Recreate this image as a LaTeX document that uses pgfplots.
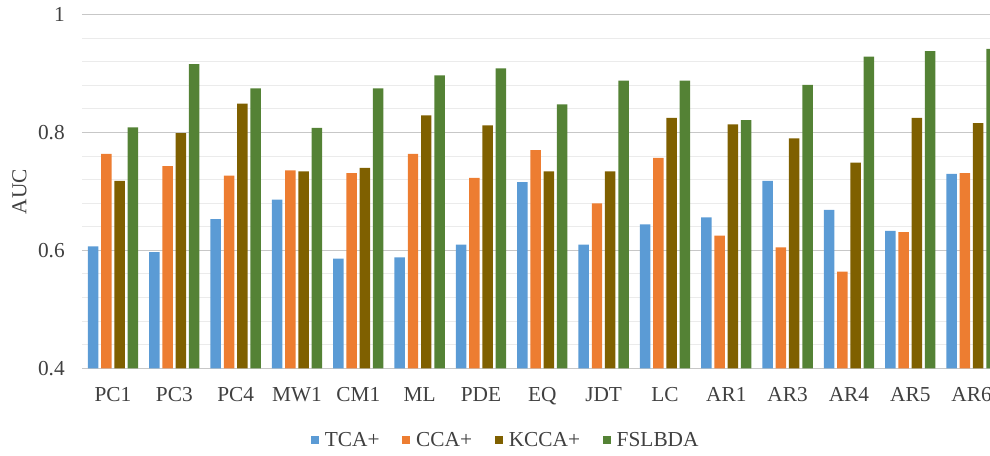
\documentclass[border=0pt]{standalone}
\usepackage{pgfplots}
\usepackage{pgfplotstable}
\pgfplotsset{compat=1.18}
\usepackage{fontspec}
\setmainfont{Liberation Serif}
\definecolor{cTCA}{HTML}{5B9BD5}
\definecolor{cCCA}{HTML}{ED7D31}
\definecolor{cKCCA}{HTML}{7F6000}
\definecolor{cFSL}{HTML}{548235}
\definecolor{txt}{HTML}{404040}
\pgfplotstableread{
x TCA CCA KCCA FSL
0 0.607 0.764 0.718 0.809
1 0.597 0.743 0.799 0.916
2 0.653 0.727 0.849 0.875
3 0.686 0.736 0.734 0.808
4 0.586 0.731 0.740 0.875
5 0.588 0.764 0.829 0.897
6 0.610 0.723 0.812 0.909
7 0.716 0.770 0.734 0.848
8 0.610 0.680 0.734 0.888
9 0.644 0.757 0.825 0.888
10 0.656 0.625 0.814 0.821
11 0.718 0.605 0.790 0.881
12 0.669 0.564 0.749 0.929
13 0.633 0.631 0.825 0.938
14 0.730 0.731 0.816 0.942
}\datatable
\begin{document}
\begin{tikzpicture}
\useasboundingbox (0,0) rectangle (742.5pt,342pt);
\begin{axis}[
  at={(61.5pt,65.78pt)}, anchor=south west,
  scale only axis, width=681pt, height=265.2pt,
  xmin=-0.505, xmax=14.30, ymin=0.4, ymax=1,
  axis line style={draw=none},
  tick style={draw=none},
  font=\fontsize{16}{18}\selectfont,
  ytick={0.4,0.6,0.8,1},
  yticklabels={0.4,0.6,0.8,1},
  minor ytick={0.44,0.48,0.52,0.56,0.64,0.68,0.72,0.76,0.84,0.88,0.92,0.96},
  ymajorgrids, yminorgrids,
  major grid style={draw=black!22, line width=0.75pt},
  minor grid style={draw=black!8, line width=0.75pt},
  xtick={0,...,14},
  xticklabels={PC1,PC3,PC4,MW1,CM1,ML,PDE,EQ,JDT,LC,AR1,AR3,AR4,AR5,AR6},
  xticklabel style={anchor=base, inner sep=0pt, yshift=-25pt, text=txt},
  yticklabel style={anchor=east, inner sep=0pt, xshift=-12.75pt, text=txt},
  ylabel={AUC},
  every axis y label/.style={at={(axis description cs:-0.0688,0.5)}, rotate=90, anchor=center, text=txt},
  legend columns=4,
  legend style={at={(0.467,-0.2028)}, anchor=center, draw=none, fill=none,
    font=\fontsize{16}{18}\selectfont, text=txt,
    nodes={inner xsep=2pt, inner ysep=1pt},
    /tikz/every odd column/.append style={column sep=2.5pt},
    /tikz/every even column/.append style={column sep=15pt}},
  legend image code/.code={\fill[#1] (0pt,-3pt) rectangle (6pt,3pt);},
]
\addplot[ybar, fill=cTCA, draw=none, bar width=0.171, bar shift=-0.325] table[x=x,y=TCA]{\datatable};
\addplot[ybar, fill=cCCA, draw=none, bar width=0.171, bar shift=-0.108] table[x=x,y=CCA]{\datatable};
\addplot[ybar, fill=cKCCA, draw=none, bar width=0.171, bar shift=0.108] table[x=x,y=KCCA]{\datatable};
\addplot[ybar, fill=cFSL, draw=none, bar width=0.171, bar shift=0.325] table[x=x,y=FSL]{\datatable};
\legend{TCA+,CCA+,KCCA+,FSLBDA}
\end{axis}
\end{tikzpicture}
\end{document}
